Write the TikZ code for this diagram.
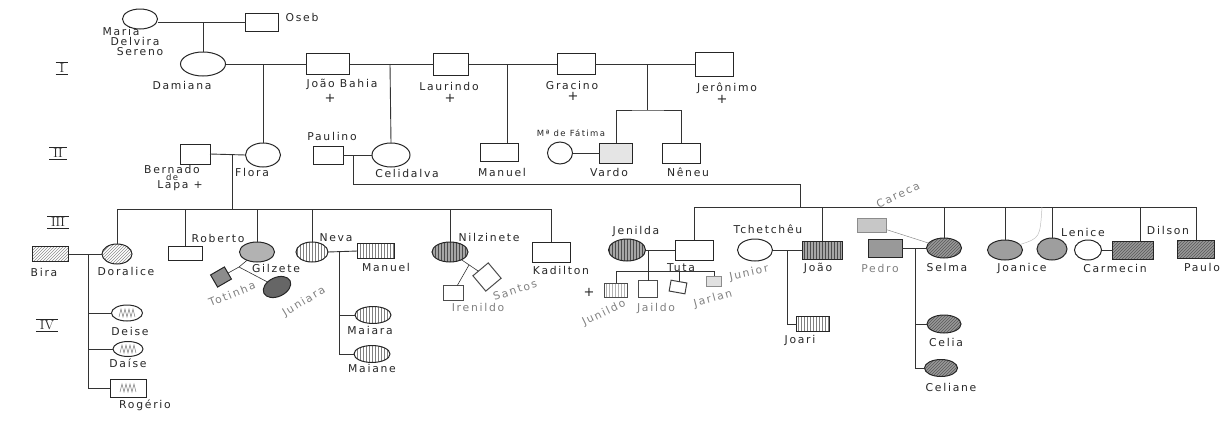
\documentclass[tikz,border=0pt]{standalone}
\usepackage{fontspec}
\newfontfamily\hand[LetterSpace=16]{DejaVu Sans}
\usetikzlibrary{shapes.geometric,patterns}
\newcommand\romn[1]{$\overline{\underline{\hspace{4pt}\mathrm{#1}\hspace{4pt}}}$}
\begin{document}
\begin{tikzpicture}[x=1pt,y=-1pt,
  conn/.style={line width=0.9pt, draw=black!80},
  gconn/.style={line width=0.5pt, draw=black!45},
  person/.style={draw=black!85, line width=1pt, inner sep=0pt, outer sep=0pt},
  male/.style={person, rectangle},
  fem/.style={person, ellipse},
  sz/.style 2 args={minimum width=#1pt, minimum height=#2pt},
  lbl/.style={font=\hand\fontsize{10.8}{12}\selectfont, text=black!85, inner sep=0pt},
  glbl/.style={lbl, text=black!50},
  sml/.style={font=\hand\fontsize{8.5}{10}\selectfont, text=black!85, inner sep=0pt},
  plus/.style={font=\hand\fontsize{13}{13}\selectfont, text=black!85, inner sep=0pt},
  rom/.style={font=\fontsize{13}{13}\selectfont, text=black!85, inner sep=0pt},
  dhatch/.style={pattern=north east lines, pattern color=black!45},
  vhatch/.style={pattern=vertical lines, pattern color=black!50},
  dvhatch/.style={preaction={fill=black!35}, pattern=vertical lines, pattern color=black!70},
  shadeA/.style={fill=black!30},
  shadeB/.style={preaction={fill=black!40}, pattern=north east lines, pattern color=black!65},
]
\useasboundingbox (0,0) rectangle (1226,445);

% ---------- Generation 0
\node[fem,sz={35}{20}] (maria) at (140,19) {};
\node[male,sz={33}{18}] (oseb) at (262,22) {};
\node[lbl] (lmaria1) at (121,31) {Maria};
\node[lbl] (lmaria2) at (135,41) {Delvira};
\node[lbl] (lmaria3) at (140,52) {Sereno};
\node[lbl] (loseb) at (302,17) {Oseb};

% ---------- Roman numerals
\node[rom] (rI) at (62,68) {\romn{I}};
\node[rom] (rII) at (58,153) {\romn{II}};
\node[rom] (rIII) at (58,222) {\romn{III}};
\node[rom] (rIV) at (47,325) {\romn{IV}};

% ---------- Generation I
\node[fem,sz={45}{24}] (damiana) at (203,64) {};
\node[male,sz={43}{21}] (joaob) at (328,64) {};
\node[male,sz={35}{22}] (laurindo) at (451,64) {};
\node[male,sz={38}{21}] (gracino) at (576,64) {};
\node[male,sz={38}{24}] (jeronimo) at (714,64) {};
\node[lbl] (ldamiana) at (182,85) {Damiana};
\node[lbl] (ljoaob) at (342,84) {João Bahia};
\node[plus] (pjoaob) at (330,98) {+};
\node[lbl] (llaurindo) at (449,86) {Laurindo};
\node[plus] (plaurindo) at (450,98) {+};
\node[lbl] (lgracino) at (572,85) {Gracino};
\node[plus] (pgracino) at (573,96) {+};
\node[lbl] (ljeronimo) at (727,88) {Jerônimo};
\node[plus] (pjeronimo) at (722,99) {+};

% ---------- Generation II
\node[male,sz={30}{20}] (bernado) at (195,154) {};
\node[fem,sz={35}{24}] (flora) at (263,155) {};
\node[male,sz={30}{18}] (paulino) at (328,155) {};
\node[fem,sz={38}{24}] (celidalva) at (391,155) {};
\node[male,sz={38}{18}] (manuel2) at (499,152) {};
\node[fem,sz={25}{22}] (fatima) at (560,153) {};
\node[male,sz={33}{20},fill=black!10] (vardo) at (616,153) {};
\node[male,sz={38}{20}] (neneu) at (681,153) {};
\node[lbl] (lbern1) at (172,169) {Bernado};
\node[sml] (lbern2) at (172,177) {de};
\node[lbl] (lbern3) at (180,186) {Lapa +};
\node[lbl] (lflora) at (252,172) {Flora};
\node[lbl] (lpaulino) at (332,136) {Paulino};
\node[lbl] (lcelidalva) at (407,173) {Celidalva};
\node[lbl] (lmanuel2) at (502,172) {Manuel};
\node[sml] (lfatima) at (571,133) {Mª de Fátima};
\node[lbl] (lvardo) at (609,172) {Vardo};
\node[lbl] (lneneu) at (688,172) {Nêneu};

% ---------- Generation III, left family
\node[male,sz={36}{15},dhatch] (bira) at (50,254) {};
\node[fem,sz={30}{20},dhatch] (doralice) at (117,254) {};
\node[male,sz={34}{14}] (roberto) at (185,253) {};
\node[fem,sz={35}{20},shadeA] (gilzete) at (257,252) {};
\node[male,sz={16}{14},fill=black!45,rotate=30] (totinha) at (221,277) {};
\node[fem,sz={29}{19},fill=black!60,rotate=25] (juniara) at (277,287) {};
\node[fem,sz={32}{20},vhatch] (neva) at (312,252) {};
\node[male,sz={37}{15},vhatch] (manuel3) at (376,251) {};
\node[fem,sz={36}{17},vhatch] (maiara) at (373,315) {};
\node[fem,sz={36}{17},vhatch] (maiane) at (372,354) {};
\node[fem,sz={36}{20},dvhatch] (nilzinete) at (450,252) {};
\node[male,sz={20}{15},draw=black!70] (irenildo) at (453,293) {};
\node[male,sz={20}{20},draw=black!70,rotate=40] (santos) at (487,277) {};
\node[male,sz={38}{20}] (kadilton) at (551,252) {};
\node[fem,sz={31}{16}] (deise) at (127,313) {};
\node[fem,sz={30}{15}] (daise) at (128,349) {};
\node[male,sz={36}{18}] (rogerio) at (128,388) {};

\node[lbl] (lbira) at (44,272) {Bira};
\node[lbl] (ldoralice) at (126,271) {Doralice};
\node[lbl] (lroberto) at (218,238) {Roberto};
\node[lbl] (lgilzete) at (276,268) {Gilzete};
\node[glbl,rotate=22] (ltotinha) at (232,294) {Totinha};
\node[glbl,rotate=31] (ljuniara) at (304,302) {Juniara};
\node[lbl] (lneva) at (336,238) {Neva};
\node[lbl] (lmanuel3) at (386,267) {Manuel};
\node[lbl] (lmaiara) at (370,330) {Maiara};
\node[lbl] (lmaiane) at (372,368) {Maiane};
\node[lbl] (lnilzinete) at (489,237) {Nilzinete};
\node[glbl] (lirenildo) at (478,307) {Irenildo};
\node[glbl,rotate=18] (lsantos) at (515,290) {Santos};
\node[lbl] (lkadilton) at (561,270) {Kadilton};
\node[lbl] (ldeise) at (130,331) {Deise};
\node[lbl] (ldaise) at (128,363) {Daíse};
\node[lbl] (lrogerio) at (145,405) {Rogério};

% ---------- Generation III, right family
\node[fem,sz={37}{22},dvhatch] (jenilda) at (627,250) {};
\node[male,sz={38}{20}] (tuta) at (694,250) {};
\node[male,sz={23}{14},draw=black!70,pattern=vertical lines,pattern color=black!30] (junildo) at (616,290) {};
\node[male,sz={19}{17},draw=black!70] (jaildo) at (648,289) {};
\node[male,sz={16}{11},draw=black!75,rotate=-10] (jarlan) at (678,287) {};
\node[male,sz={15}{10},draw=black!45,fill=black!12] (junior) at (714,281) {};
\node[fem,sz={35}{22}] (tchetcheu) at (755,250) {};
\node[male,sz={40}{18},dvhatch] (joao3) at (822,250) {};
\node[male,sz={33}{15},vhatch] (joari) at (813,324) {};
\node[male,sz={29}{14},draw=black!45,fill=black!22] (careca) at (872,225) {};
\node[male,sz={34}{18},fill=black!40] (pedro) at (885,248) {};
\node[fem,sz={35}{20},shadeB] (selma) at (944,248) {};
\node[fem,sz={34}{18},shadeB] (celia) at (944,324) {};
\node[fem,sz={33}{17},shadeB] (celiane) at (941,368) {};
\node[fem,sz={35}{20},fill=black!38] (joanice) at (1005,250) {};
\node[fem,sz={30}{22},fill=black!38] (lenice) at (1052,249) {};
\node[fem,sz={27}{20}] (carmecin) at (1088,250) {};
\node[male,sz={41}{18},shadeB] (dilson) at (1133,250) {};
\node[male,sz={37}{18},shadeB] (paulo) at (1196,249) {};

\node[lbl] (ljenilda) at (636,231) {Jenilda};
\node[lbl] (ltuta) at (681,268) {Tuta};
\node[plus] (pjunildo) at (589,292) {+};
\node[glbl,rotate=26] (ljunildo) at (604,313) {Junildo};
\node[glbl] (ljaildo) at (656,308) {Jaildo};
\node[glbl,rotate=15] (ljarlan) at (713,299) {Jarlan};
\node[glbl,rotate=12] (ljunior) at (749,273) {Junior};
\node[lbl] (ltchetcheu) at (768,229) {Tchetchêu};
\node[lbl] (ljoao3) at (818,268) {João};
\node[lbl] (ljoari) at (800,340) {Joari};
\node[glbl,rotate=25] (lcareca) at (898,195) {Careca};
\node[glbl] (lpedro) at (880,268) {Pedro};
\node[lbl] (lselma) at (947,267) {Selma};
\node[lbl] (lcelia) at (946,342) {Celia};
\node[lbl] (lceliane) at (951,387) {Celiane};
\node[lbl] (ljoanice) at (1022,268) {Joanice};
\node[lbl] (llenice) at (1083,232) {Lenice};
\node[lbl] (lcarmecin) at (1115,268) {Carmecin};
\node[lbl] (ldilson) at (1168,230) {Dilson};
\node[lbl] (lpaulo) at (1202,267) {Paulo};

% ---------- junction coordinates
\coordinate (j0) at (203,22);
\coordinate (j1) at (263,64);
\coordinate (j2) at (390,64);
\coordinate (j3) at (507,64);
\coordinate (j4) at (647,64);
\coordinate (j4b) at (647,110);
\coordinate (j5) at (232,154);
\coordinate (j5b) at (232,209);
\coordinate (j6) at (353,155);
\coordinate (j6b) at (353,184);
\coordinate (j6c) at (800,184);
\coordinate (j6d) at (800,207);
\coordinate (j7) at (88,254);
\coordinate (gz) at (239,267);
\coordinate (j8) at (339,252);
\coordinate (nz) at (469,265);
\coordinate (j9) at (648,250);
\coordinate (j9b) at (648,271);
\coordinate (j10) at (787,250);
\coordinate (j11) at (915,248);
\coordinate (tw) at (1042,207);

% ---------- connectors
\draw[conn] (maria.east |- oseb.west) -- (oseb.west);
\draw[conn] (j0) -- (damiana.north);
\draw[conn] (damiana.east) -- (joaob.west);
\draw[conn] (joaob.east) -- (laurindo.west);
\draw[conn] (laurindo.east) -- (gracino.west);
\draw[conn] (gracino.east) -- (jeronimo.west);
\draw[conn] (j1) -- (flora.north);
\draw[conn] (j2) -- (celidalva.north);
\draw[conn] (j3) -- (j3 |- manuel2.north);
\draw[conn] (j4) -- (j4b);
\draw[conn] (vardo.north) |- (j4b) -| (neneu.north);

\draw[conn] (bernado.east) -- (flora.west);
\draw[conn] (paulino.east) -- (celidalva.west);
\draw[conn] (fatima.east) -- (vardo.west);
\draw[conn] (j5) -- (j5b);
\draw[conn] (doralice.north) -- (doralice.north |- j5b) -- (kadilton.north |- j5b) -- (kadilton.north);
\draw[conn] (roberto.north) -- (roberto.north |- j5b);
\draw[conn] (gilzete.north) -- (gilzete.north |- j5b);
\draw[conn] (neva.north) -- (neva.north |- j5b);
\draw[conn] (nilzinete.north) -- (nilzinete.north |- j5b);
\draw[conn] (j6) -- (j6b) -- (j6c) -- (j6d);
\draw[conn] (tuta.north) -- (tuta.north |- j6d) -- (paulo.north |- j6d) -- (paulo.north);
\draw[conn] (joao3.north) -- (joao3.north |- j6d);
\draw[conn] (selma.north) -- (selma.north |- j6d);
\draw[conn] (joanice.north) -- (joanice.north |- j6d);
\draw[conn] (lenice.north) -- (lenice.north |- j6d);
\draw[conn] ([xshift=7pt]dilson.north) -- ([xshift=7pt]dilson.north |- j6d);

% left family
\draw[conn] (bira.east) -- (doralice.west);
\draw[conn] (j7) |- (rogerio.west);
\draw[conn] (j7 |- deise.west) -- (deise.west);
\draw[conn] (j7 |- daise.west) -- (daise.west);
\draw[conn, line width=0.6pt] (gilzete) -- (gz) -- (totinha);
\draw[conn, line width=0.6pt] (gz) -- (juniara);
\draw[conn] (neva.east) -- (manuel3.west);
\draw[conn] (j8) |- (maiane.west);
\draw[conn] (j8 |- maiara.west) -- (maiara.west);
\draw[conn, line width=0.6pt] (nilzinete) -- (santos);
\draw[conn, line width=0.6pt] (nz) -- (irenildo);

% right family
\draw[conn] (jenilda.east) -- (tuta.west);
\draw[conn, line width=0.6pt] (j9) -- (j9b);
\draw[conn, line width=0.6pt] (junildo.north) -- (junildo.north |- j9b) -- (junior.north |- j9b) -- (junior.north);
\draw[conn, line width=0.6pt] (jaildo.north) -- (jaildo.north |- j9b);
\draw[conn, line width=0.6pt] (jarlan.north) -- (jarlan.north |- j9b);
\draw[conn] (tchetcheu.east) -- (joao3.west);
\draw[conn] (j10) |- (joari.west);
\draw[gconn] (careca) -- (selma);
\draw[conn] (pedro.east) -- (selma.west);
\draw[conn] (j11) |- (celiane.west);
\draw[conn] (j11 |- celia.west) -- (celia.west);
\draw[conn] (carmecin.east) -- (dilson.west);
\draw[gconn, draw=black!25] (tw) .. controls (1040,238) .. (joanice.20);

% zigzag shading
\foreach \n in {deise,daise,rogerio}
  \draw[black!50, line width=0.5pt, shift={(\n.center)}] (-8,4) -- (-6,-4) -- (-4,4) -- (-2,-4) -- (0,4) -- (2,-4) -- (4,4) -- (6,-4) -- (8,4);
\end{tikzpicture}
\end{document}
